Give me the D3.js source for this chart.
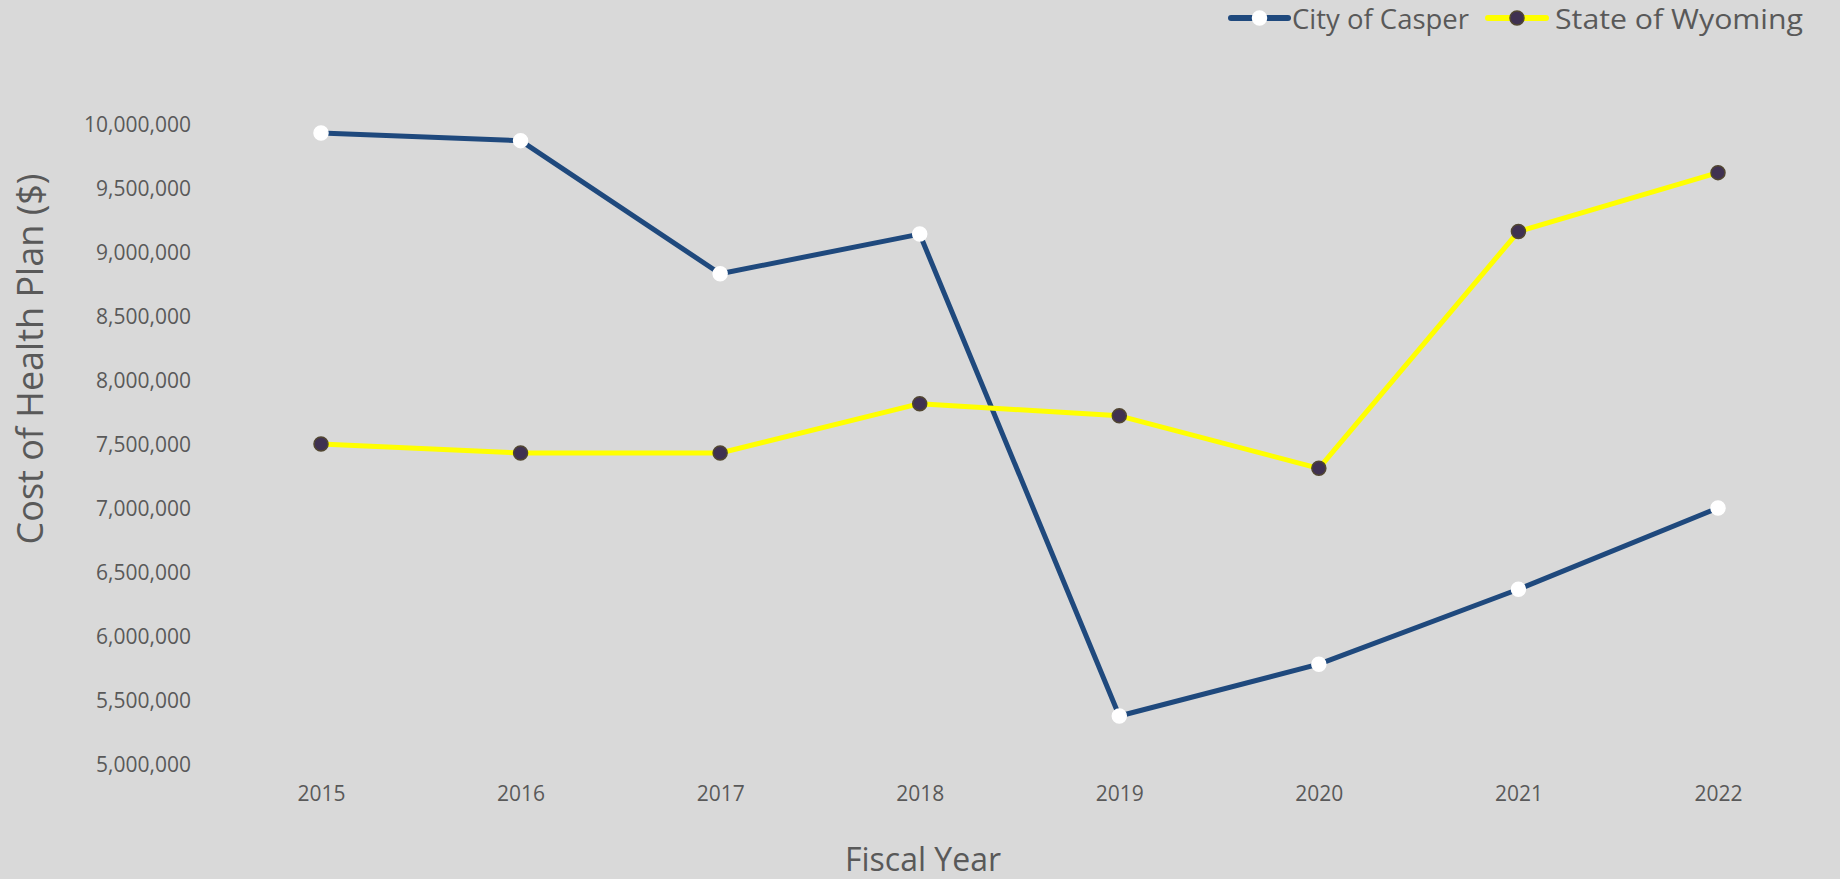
<!DOCTYPE html>
<html>
<head>
<meta charset="utf-8">
<script src="https://cdn.jsdelivr.net/npm/d3@7"></script>
<style>
  html, body { margin: 0; padding: 0; background: #d9d9d9; }
  svg { display: block; }
  text { font-family: "Open Sans", sans-serif; fill: #595959; }
</style>
</head>
<body>
<svg id="chart" width="1840" height="879"></svg>
<script>
const years = ["2015", "2016", "2017", "2018", "2019", "2020", "2021", "2022"];
const cityOfCasper = [9930000, 9870000, 8830000, 9140000, 5375000, 5780000, 6365000, 7000000];
const stateOfWyoming = [7500000, 7430000, 7430000, 7815000, 7720000, 7310000, 9160000, 9620000];
const yTicks = [5000000, 5500000, 6000000, 6500000, 7000000, 7500000, 8000000, 8500000, 9000000, 9500000, 10000000];
const seriesNames = ["City of Casper", "State of Wyoming"];

const svg = d3.select("#chart");
svg.append("rect").attr("width", 1840).attr("height", 879).attr("fill", "#d9d9d9");

const x = d3.scalePoint().domain(years).range([321, 1718]);
const y = d3.scaleLinear().domain([5000000, 10000000]).range([764, 124]);

// Y axis
const yAxis = svg.append("g").attr("transform", "translate(191,0)")
  .call(d3.axisLeft(y).tickValues(yTicks).tickFormat(d3.format(",")).tickSize(0).tickPadding(0));
yAxis.select(".domain").remove();
yAxis.selectAll("text").style("font-family", "'Open Sans', sans-serif").style("font-size", "21px").attr("fill", "#595959").attr("dy", "0.35em");

// X axis
const xAxis = svg.append("g").attr("transform", "translate(0,794)")
  .call(d3.axisBottom(x).tickSize(0).tickPadding(0));
xAxis.select(".domain").remove();
xAxis.selectAll("text").style("font-family", "'Open Sans', sans-serif").style("font-size", "21px").attr("fill", "#595959").attr("dy", "0.35em").attr("y", 0);

// Axis titles
svg.append("text").attr("transform", "translate(33,359) rotate(-90)")
  .attr("text-anchor", "middle").attr("dominant-baseline", "middle")
  .style("font-size", "36px").text("Cost of Health Plan ($)");
svg.append("text").attr("x", 923).attr("y", 862)
  .attr("text-anchor", "middle").attr("dominant-baseline", "middle")
  .style("font-size", "32px").text("Fiscal Year");

const line = d3.line().x((d, i) => x(years[i])).y(d => y(d));

const series = [
  { name: seriesNames[0], values: cityOfCasper, stroke: "#1f497d", mfill: "#ffffff", mstroke: "#ffffff" },
  { name: seriesNames[1], values: stateOfWyoming, stroke: "#ffff00", mfill: "#3f3151", mstroke: "#514631" }
];

series.forEach(s => {
  svg.append("path").datum(s.values).attr("d", line)
    .attr("fill", "none").attr("stroke", s.stroke).attr("stroke-width", 5)
    .attr("stroke-linejoin", "round");
});
series.forEach(s => {
  svg.append("g").selectAll("circle").data(s.values).join("circle")
    .attr("cx", (d, i) => x(years[i])).attr("cy", d => y(d)).attr("r", 7)
    .attr("fill", s.mfill).attr("stroke", s.mstroke).attr("stroke-width", 1.5);
});

// Legend
const legendItems = [
  { x0: 1231, x1: 1288, tx: 1292, w: 177, s: series[0] },
  { x0: 1488, x1: 1546, tx: 1555, w: 248, s: series[1] }
];
legendItems.forEach(it => {
  const g = svg.append("g");
  g.append("line").attr("x1", it.x0).attr("x2", it.x1).attr("y1", 18).attr("y2", 18)
    .attr("stroke", it.s.stroke).attr("stroke-width", 6).attr("stroke-linecap", "round");
  g.append("circle").attr("cx", (it.x0 + it.x1) / 2).attr("cy", 18).attr("r", 7)
    .attr("fill", it.s.mfill).attr("stroke", it.s.mstroke).attr("stroke-width", 1.5);
  g.append("text").attr("x", it.tx).attr("y", 29)
    .attr("textLength", it.w).attr("lengthAdjust", "spacingAndGlyphs")
    .style("font-size", "28px").text(it.s.name);
});
</script>
</body>
</html>
